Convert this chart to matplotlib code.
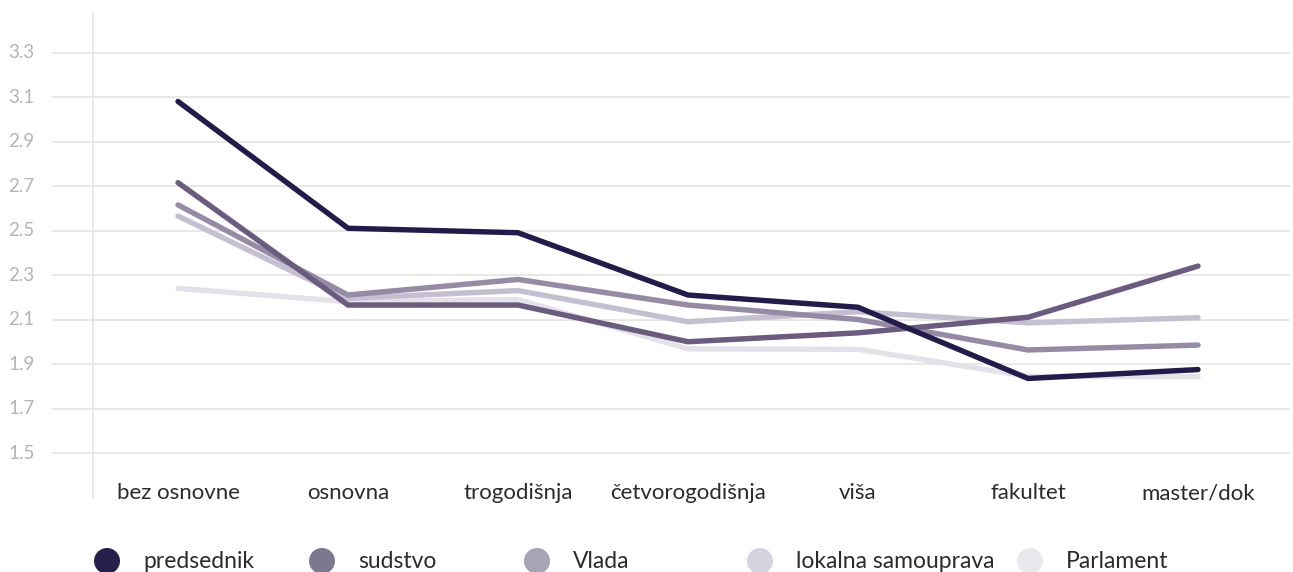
import matplotlib
matplotlib.use("Agg")
import matplotlib.pyplot as plt
from matplotlib.patches import Ellipse
from matplotlib.transforms import blended_transform_factory

plt.rcParams["font.family"] = ["Lato", "DejaVu Sans"]

categories = ["bez osnovne", "osnovna", "trogodišnja", "četvorogodišnja",
              "viša", "fakultet", "master/dok"]

predsednik = [3.08, 2.51, 2.49, 2.21, 2.155, 1.835, 1.875]
sudstvo = [2.715, 2.165, 2.165, 2.00, 2.04, 2.11, 2.34]
vlada = [2.615, 2.21, 2.28, 2.165, 2.10, 1.963, 1.985]
lokalna_samouprava = [2.565, 2.195, 2.23, 2.09, 2.135, 2.085, 2.108]
parlament = [2.24, 2.18, 2.19, 1.968, 1.966, 1.845, 1.843]

series_names = ["predsednik", "sudstvo", "Vlada", "lokalna samouprava", "Parlament"]
series_values = [predsednik, sudstvo, vlada, lokalna_samouprava, parlament]

y_ticks = [1.5, 1.7, 1.9, 2.1, 2.3, 2.5, 2.7, 2.9, 3.1, 3.3]
y_tick_labels = ["1.5", "1.7", "1.9", "2.1", "2.3", "2.5", "2.7", "2.9", "3.1", "3.3"]

line_colors = ["#231c4a", "#6a5b7f", "#968ba4", "#c5c0d1", "#e4e2e8"]
legend_colors = ["#25204c", "#7d778f", "#a7a4b6", "#d4d2dd", "#e9e8ed"]

W, H = 1293, 572
fig = plt.figure(figsize=(W / 100, H / 100), dpi=100)

left_px, right_px, top_px, bottom_px = 52, 1290, 12, 498
ax = fig.add_axes([left_px / W, 1 - bottom_px / H,
                   (right_px - left_px) / W, (bottom_px - top_px) / H])

x = list(range(len(categories)))
step_px = 170.0
first_px = 178.0
ax.set_xlim(-(first_px - left_px) / step_px, (right_px - first_px) / step_px)
px_per_unit = 222.5
y_at_97 = 3.1
ax.set_ylim(y_at_97 - (bottom_px - 97) / px_per_unit,
            y_at_97 + (97 - top_px) / px_per_unit)

for s in ax.spines.values():
    s.set_visible(False)
ax.set_xticks([])
ax.set_yticks([])

grid_color = "#e6e6e6"
for yv in y_ticks:
    ax.axhline(yv, color=grid_color, lw=1.3, zorder=0)
ax.axvline(-0.5, color=grid_color, lw=1.3, zorder=0)

# y tick labels, left aligned at the figure edge
ytrans = blended_transform_factory(fig.transFigure, ax.transData)
for yv, lab in zip(y_ticks, y_tick_labels):
    fig.text(8 / W, yv, lab, transform=ytrans, ha="left", va="center",
             fontsize=13.5, color="#b5b5b5")

# category labels
xtrans = blended_transform_factory(ax.transData, ax.transAxes)
for xi, lab in zip(x, categories):
    ax.text(xi, (bottom_px - 493) / (bottom_px - top_px), lab, transform=xtrans,
            ha="center", va="center", fontsize=16, color="#2b2b2b")

# lines: lightest first so darker series sit on top
for vals, col in reversed(list(zip(series_values, line_colors))):
    ax.plot(x, vals, color=col, lw=3.9, solid_capstyle="round",
            solid_joinstyle="miter", zorder=2)

# legend
legend_circle_x = [107, 322, 537, 760, 1030]
legend_y = 561
r = 13
for cx, name, col in zip(legend_circle_x, series_names, legend_colors):
    fig.patches.append(Ellipse((cx / W, 1 - legend_y / H), 2 * r / W, 2 * r / H,
                               transform=fig.transFigure, color=col,
                               ec="none"))
    fig.text((cx + 36) / W, 1 - legend_y / H, name, ha="left", va="center",
             fontsize=16.5, color="#2b2b2b")

fig.savefig("out.png", dpi=100)
